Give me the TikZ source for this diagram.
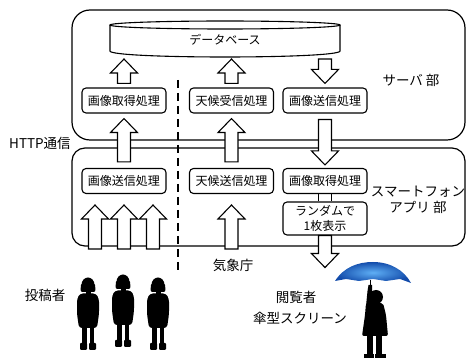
\documentclass[tikz,border=0pt]{standalone}
\usepackage{fontspec}
\setmainfont{Noto Sans CJK JP}
\usetikzlibrary{calc}

\definecolor{umbin}{RGB}{95,175,245}
\definecolor{umbout}{RGB}{18,75,170}

\tikzset{
  part/.style={line width=1.2pt},
  proc/.style={draw, rounded corners=4pt, line width=1.1pt, minimum width=84pt, minimum height=25pt,
    inner sep=0pt, font=\fontsize{12}{15}\selectfont},
  blockarrow/.style={draw, fill=white, line width=1.1pt, line join=miter},
  lbl/.style={inner sep=0pt, font=\fontsize{13.5}{16}\selectfont},
  divider/.style={line width=1.6pt, dash pattern=on 8pt off 5pt},
}

\begin{document}
\begin{tikzpicture}[x=1pt, y=-1pt]
    \useasboundingbox (0,0) rectangle (467,358);

    % vertical block arrow, from #1 to the tip #2
    \newcommand{\bigarrow}[2]{
        \draw[blockarrow] let \p1=(#1), \p2=(#2), \n1={ifthenelse(\y2>\y1,-14,14)} in
            ({\x1-6.5pt},\y1) -- ({\x1-6.5pt},{\y2+\n1*1pt}) -- ({\x1-13.5pt},{\y2+\n1*1pt}) -- (\x1,\y2)
            -- ({\x1+13.5pt},{\y2+\n1*1pt}) -- ({\x1+6.5pt},{\y2+\n1*1pt}) -- ({\x1+6.5pt},\y1) -- cycle;
    }

    % silhouette, head centre at (#1,#2)
    \newcommand{\kid}[2]{
        \begin{scope}[shift={(#1,#2)}]
            \fill (0,0) ellipse [x radius=6.5, y radius=7.5];
            \fill[rounded corners=2pt] (-7,-2) -- (7,-2) -- (7.5,7) -- (-7.5,7) -- cycle;
            \fill (-2.5,6) rectangle (2.5,10);
            \fill[rounded corners=3pt] (-8,8.5) -- (8,8.5) -- (11,14) -- (11,29) -- (9,43) -- (-9,43) -- (-11,29) -- (-11,14) -- cycle;
            \fill (-6,42) rectangle (-1.5,60);
            \fill (1.5,42) rectangle (6,60);
            \fill[rounded corners=1pt] (-8,58) rectangle (-1,65);
            \fill[rounded corners=1pt] (1,58) rectangle (8,65);
        \end{scope}
    }

    % server part
    \draw[part, rounded corners=18pt] (72,10) rectangle (465,140);
    \node[lbl] (server) at (411,80) {サーバ 部};

    \draw[line width=1.1pt, fill=white] (110,25) -- (110,51) .. controls (110,59) and (340,59) .. (340,51) -- (340,25);
    \draw[line width=1.1pt] (225,25) ellipse [x radius=115, y radius=4];
    \node[lbl, font=\fontsize{12}{15}\selectfont] (db) at (225,40) {データベース};
    \coordinate (dbbot) at (225,59);

    \node[proc] (getsrv) at (124,100.5) {画像取得処理};
    \node[proc] (wxrecv) at (231.5,100.5) {天候受信処理};
    \node[proc] (sendsrv) at (325,100.5) {画像送信処理};

    % smartphone app part
    \draw[part, rounded corners=13pt] (72,148) rectangle (465,246);
    \node[lbl, align=center] (app) at (418,200) {スマートフォン\\アプリ 部};
    \node[lbl, anchor=west] (http) at (9,143) {HTTP通信};

    \node[proc] (sendapp) at (124,181) {画像送信処理};
    \node[proc] (wxsend) at (231.5,181) {天候送信処理};
    \node[proc] (getapp) at (325,181) {画像取得処理};
    \node[proc, minimum height=33pt, align=center, font=\fontsize{12}{14.5}\selectfont] (rand) at (325,218.5) {ランダムで\\1枚表示};
    \draw[line width=1.1pt] ($(getapp.south)+(-6.5,0)$) -- ($(rand.north)+(-6.5,0)$);
    \draw[line width=1.1pt] ($(getapp.south)+(6.5,0)$) -- ($(rand.north)+(6.5,0)$);

    \draw[divider] (178,80) -- (178,270);

    % data flow
    \bigarrow{$(getsrv.north)+(0,-4)$}{getsrv.north |- dbbot}
    \bigarrow{$(wxrecv.north)+(0,-4)$}{wxrecv.north |- dbbot}
    \bigarrow{sendsrv.north |- dbbot}{$(sendsrv.north)+(0,-4)$}
    \bigarrow{$(sendapp.north)+(0,-6)$}{$(getsrv.south)+(0,5)$}
    \bigarrow{$(wxsend.north)+(0,-6)$}{$(wxrecv.south)+(0,5)$}
    \bigarrow{$(sendsrv.south)+(0,6)$}{$(getapp.north)+(0,-3)$}
    \bigarrow{rand.south}{$(rand.south)+(0,32)$}

    \coordinate (tiprow) at (0,205);
    \coordinate (post1) at (95,249);
    \coordinate (post2) at (124,249);
    \coordinate (post3) at (153,249);
    \coordinate (jmasrc) at (231.5,249);
    \foreach \src in {post1,post2,post3,jmasrc}
        \bigarrow{\src}{\src |- tiprow};

    \node[lbl] (jma) at (233,265) {気象庁};

    % posters
    \node[lbl] (poster) at (45,295) {投稿者};
    \kid{88}{285}
    \kid{123}{282}
    \kid{158}{285}

    % viewer with umbrella screen
    \node[lbl] (viewer) at (296,297) {閲覧者};
    \node[lbl] (screen) at (300,318) {傘型スクリーン};
    \draw[line width=1pt] (370,280) -- (370,287);
    \shade[inner color=umbin, outer color=umbout] (335,281) .. controls (344,267) and (358,262) .. (373,262)
        .. controls (390,262) and (404,270) .. (411,283) -- (400,279) -- (386,281) -- (373,279)
        -- (359,281) -- (346,279) -- cycle;
    \fill (376,297) circle [radius=7];
    \fill (366,306) -- (367.5,291) -- (368.5,285) -- (372,285) -- (372,293) -- (373,306) -- cycle;
    \fill[rounded corners=2pt] (366,303) -- (383,303) -- (386,315) -- (388,336) -- (362,336) -- (365,315) -- cycle;
    \fill (367,335) rectangle (373,355);
    \fill (376,335) rectangle (382,355);
    \fill (364,354) rectangle (374,358);
    \fill (375,354) rectangle (386,358);
\end{tikzpicture}
\end{document}
